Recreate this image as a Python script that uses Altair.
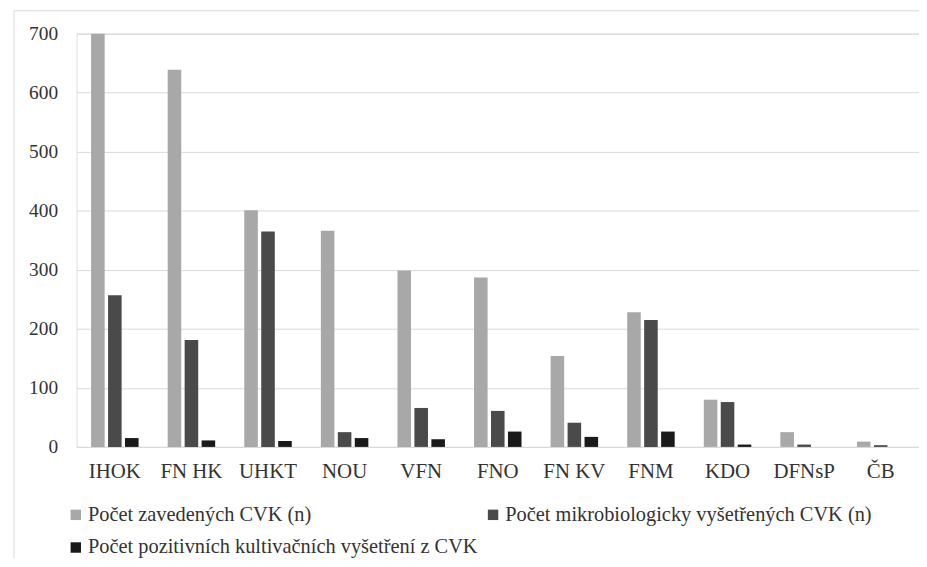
import altair as alt
import pandas as pd

categories = ["IHOK", "FN HK", "UHKT", "NOU", "VFN", "FNO", "FN KV", "FNM", "KDO", "DFNsP", "ČB"]
series_names = [
    "Počet zavedených CVK (n)",
    "Počet mikrobiologicky vyšetřených CVK (n)",
    "Počet pozitivních kultivačních vyšetření z CVK",
]
zavedene = [700, 639, 401, 366, 299, 287, 154, 228, 80, 25, 9]
vysetrene = [257, 181, 365, 25, 66, 61, 41, 215, 76, 4, 3]
pozitivni = [15, 11, 10, 15, 13, 26, 17, 26, 4, 0, 0]
y_ticks = [0, 100, 200, 300, 400, 500, 600, 700]
series_colors = ["#a8a8a8", "#4a4a4a", "#1a1a1a"]

rows = []
for vals, name in zip([zavedene, vysetrene, pozitivni], series_names):
    for c, v in zip(categories, vals):
        rows.append({"cat": c, "series": name, "value": v})
df = pd.DataFrame(rows)

FONT = "Liberation Serif, Times New Roman, serif"

# legend is laid out column by column: order entries so rows read 1,2 / 3
legend_order = [series_names[0], series_names[2], series_names[1]]
legend_colors = [series_colors[0], series_colors[2], series_colors[1]]

bars = alt.Chart(df).mark_bar().encode(
    x=alt.X(
        "cat:N",
        sort=categories,
        scale=alt.Scale(paddingInner=0.38, paddingOuter=0.19),
        axis=alt.Axis(
            title=None, labelAngle=0, labelFontSize=21, labelPadding=14,
            ticks=False, domainColor="#d9d9d9", labelColor="#333333", grid=False,
            labelFont=FONT,
        ),
    ),
    xOffset=alt.XOffset("series:N", sort=series_names, scale=alt.Scale(paddingInner=0.2)),
    y=alt.Y(
        "value:Q",
        scale=alt.Scale(domain=[0, 700], nice=False),
        axis=alt.Axis(
            title=None, values=y_ticks, labelFontSize=19.5, labelPadding=19,
            ticks=False, domain=False, gridColor="#d9d9d9", labelColor="#333333",
            labelFont=FONT,
        ),
    ),
    color=alt.Color(
        "series:N",
        scale=alt.Scale(domain=legend_order, range=legend_colors),
        legend=alt.Legend(
            title=None, orient="none", legendX=-11, legendY=474, columns=2,
            columnPadding=5, rowPadding=12, symbolType="square", symbolSize=110,
            labelFontSize=20.5, labelLimit=600, labelOffset=2, labelFont=FONT,
            labelColor="#333333", symbolStrokeWidth=0,
        ),
    ),
)

frame = alt.Chart(pd.DataFrame({"a": [0]})).mark_rect(
    fill=None, stroke="#d9d9d9", strokeWidth=1
).encode(
    x=alt.value(-63), y=alt.value(-23), x2=alt.value(1000), y2=alt.value(700)
)

chart = alt.layer(frame, bars).properties(
    width=848,
    height=416,
    padding={"left": 69, "top": 24, "right": 0, "bottom": 110},
    autosize=alt.AutoSizeParams(type="none"),
).configure_view(stroke=None).configure(font=FONT)

chart.save("out.html", embed_options={"renderer": "svg", "actions": False})
